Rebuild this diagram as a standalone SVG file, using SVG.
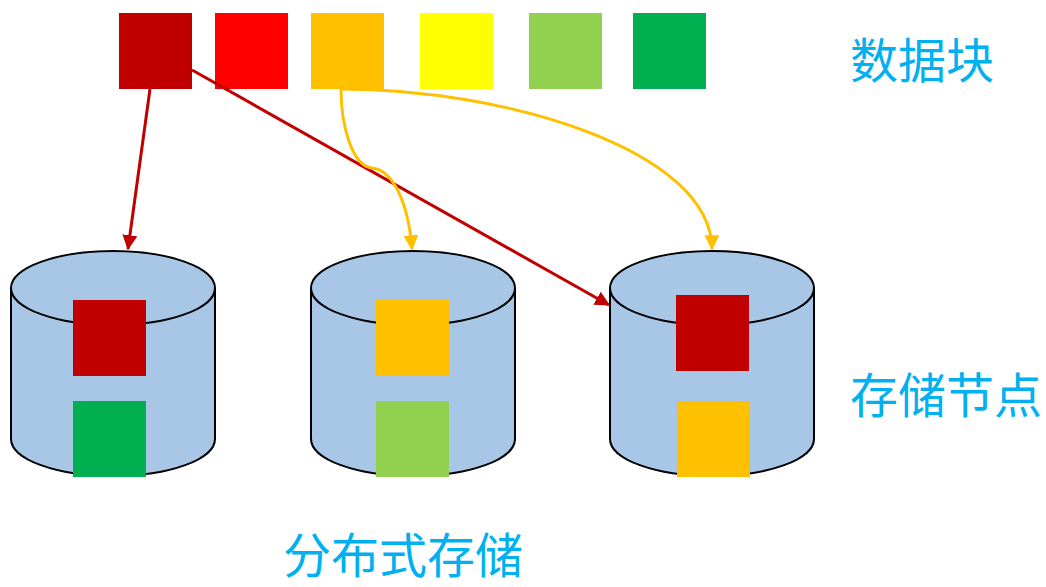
<svg xmlns="http://www.w3.org/2000/svg" width="1046" height="587" viewBox="0 0 1046 587">
  <style>
    .label { font-family: "Noto Sans CJK SC", "Noto Sans", sans-serif; font-size: 48px; fill: #00B0F0; }
    .drum { fill: #A8C6E5; stroke: #000000; stroke-width: 2; }
    .rim { fill: none; stroke: #000000; stroke-width: 2; }
    .link { fill: none; stroke-width: 3; }
    .red { stroke: #C00000; }
    .amber { stroke: #FFC000; }
  </style>
  <defs>
    <marker id="headRed" markerUnits="userSpaceOnUse" markerWidth="15" markerHeight="15" viewBox="0 0 12 12" refX="11" refY="6" orient="auto">
      <path d="M0,0 L12,6 L0,12 Z" fill="#C00000"/>
    </marker>
    <marker id="headAmber" markerUnits="userSpaceOnUse" markerWidth="15" markerHeight="15" viewBox="0 0 12 12" refX="11" refY="6" orient="auto">
      <path d="M0,0 L12,6 L0,12 Z" fill="#FFC000"/>
    </marker>
    <symbol id="drumShape" overflow="visible">
      <path class="drum" d="M0,37 L0,188 A102,37 0 0 0 204,188 L204,37 A102,37 0 0 0 0,37 Z"/>
      <path class="rim" d="M0,37 A102,37 0 0 0 204,37"/>
    </symbol>
  </defs>

  <!-- data blocks -->
  <g id="blocks">
    <rect id="block1" x="119" y="13" width="73" height="76" fill="#C00000"/>
    <rect id="block2" x="215" y="13" width="73" height="76" fill="#FF0000"/>
    <rect id="block3" x="311" y="13" width="73" height="76" fill="#FFC000"/>
    <rect id="block4" x="420" y="13" width="73" height="76" fill="#FFFF00"/>
    <rect id="block5" x="529" y="13" width="73" height="76" fill="#92D050"/>
    <rect id="block6" x="633" y="13" width="73" height="76" fill="#00B050"/>
  </g>

  <!-- storage nodes -->
  <g id="node1">
    <use href="#drumShape" x="11" y="251"/>
    <rect x="73" y="300" width="73" height="76" fill="#C00000"/>
    <rect x="73" y="401" width="73" height="76" fill="#00B050"/>
  </g>
  <g id="node2">
    <use href="#drumShape" x="311" y="251"/>
    <rect x="376" y="300" width="73" height="76" fill="#FFC000"/>
    <rect x="376" y="401" width="73" height="76" fill="#92D050"/>
  </g>
  <g id="node3">
    <use href="#drumShape" x="610" y="251"/>
    <rect x="676" y="295" width="73" height="76" fill="#C00000"/>
    <rect x="677" y="401" width="73" height="76" fill="#FFC000"/>
  </g>

  <!-- connectors -->
  <g id="connectors">
    <path class="link red" d="M150,89 L128,249" marker-end="url(#headRed)"/>
    <path class="link red" d="M192,70 L609,305" marker-end="url(#headRed)"/>
    <path class="link amber" d="M341,89 C341,125 352,166 372,168 C392,170 408,200 412,249" marker-end="url(#headAmber)"/>
    <path class="link amber" d="M341,89 C505,89 711,150 712,249" marker-end="url(#headAmber)"/>
  </g>

  <!-- labels -->
  <g id="labels">
    <text class="label" x="850" y="78">数据块</text>
    <text class="label" x="850" y="413">存储节点</text>
    <text class="label" x="283" y="573">分布式存储</text>
  </g>
</svg>
